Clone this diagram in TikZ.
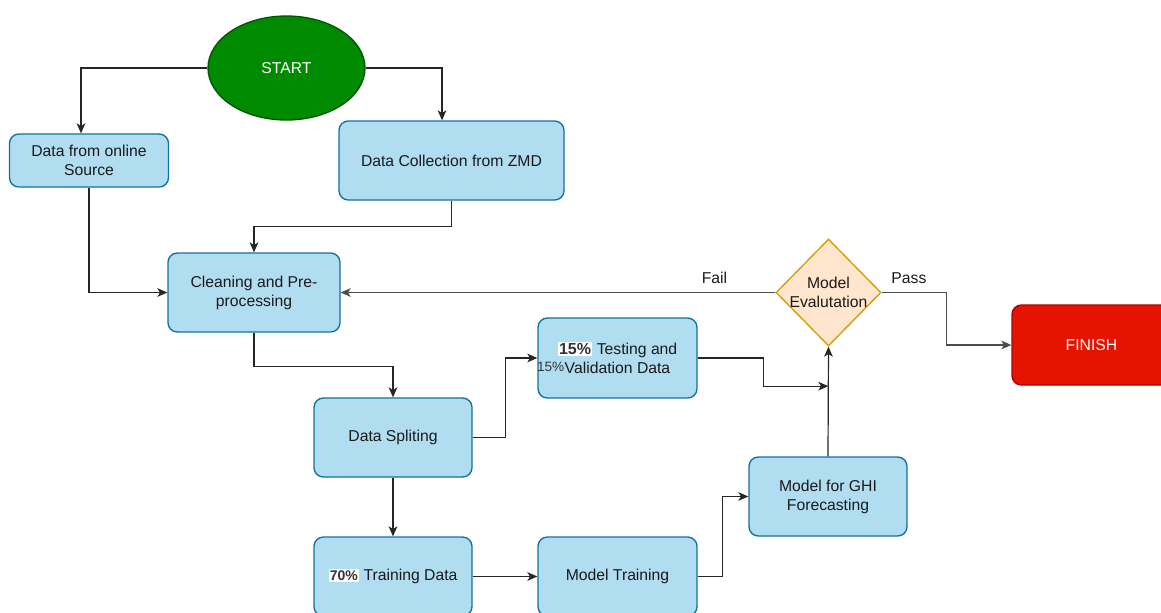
\documentclass[tikz,border=0pt]{standalone}
\usepackage{fontspec}
\setmainfont{Liberation Sans}
\usetikzlibrary{shapes.geometric,arrows.meta,calc}

\definecolor{boxfill}{HTML}{B1DDF0}
\definecolor{boxline}{HTML}{10739E}
\definecolor{startfill}{HTML}{008A00}
\definecolor{startline}{HTML}{005700}
\definecolor{endfill}{HTML}{E51400}
\definecolor{endline}{HTML}{B20000}
\definecolor{decfill}{HTML}{FFE6CC}
\definecolor{decline}{HTML}{D79B00}
\definecolor{txt}{HTML}{1A1A1A}
\definecolor{pctgray}{HTML}{333333}

% highlighted percentage tags inside the box texts
\newcommand\pctbig[1]{{\setlength{\fboxsep}{1pt}\colorbox{white}{\fontsize{12}{12}\selectfont\bfseries\color{pctgray}#1}}}
\newcommand\pctbold[1]{{\setlength{\fboxsep}{1pt}\colorbox{white}{\fontsize{10.5}{10.5}\selectfont\bfseries\color{pctgray}#1}}}

\tikzset{
  basefont/.style={font=\fontsize{11.8}{14.25}\selectfont},
  procbox/.style={rectangle, rounded corners=7pt, draw=boxline, fill=boxfill,
    line width=1pt, align=center, text=txt, inner sep=0pt, basefont},
  terminal/.style={rectangle, rounded corners=7pt, draw=endline, fill=endfill,
    line width=1pt, text=white, inner sep=0pt, basefont},
  startshape/.style={ellipse, draw=startline, fill=startfill, line width=1pt,
    text=white, inner sep=0pt, basefont},
  decision/.style={diamond, draw=decline, fill=decfill, line width=1pt,
    inner sep=0pt},
  conn/.style={draw=black!85, line width=0.9pt, -{Stealth[length=7.5pt,width=6.5pt,inset=2pt]}},
  grayconn/.style={conn, draw=black!70},
  edgelabel/.style={text=txt, basefont, inner sep=0pt},
}

\begin{document}
\begin{tikzpicture}[x=0.75pt,y=-0.75pt]
\useasboundingbox (0,0) rectangle (1161,612);
\clip (0,0) rectangle (1161,612);

% nodes
\node[startshape, minimum width=117.75pt, minimum height=78pt] (start) at (286.5,68) {START};
\node[procbox, minimum width=119.25pt, minimum height=39.75pt] (online) at (89,160.5) {Data from online\\Source};
\node[procbox, minimum width=168.75pt, minimum height=59.25pt] (zmd) at (451.5,160.5) {Data Collection from ZMD};
\node[procbox, minimum width=129pt, minimum height=59.25pt] (clean) at (254,292.5) {Cleaning and Pre-\\processing};
\node[procbox, minimum width=118.5pt, minimum height=59.25pt] (split) at (393,437.5) {Data Spliting};
\node[procbox, minimum width=119.25pt, minimum height=60pt] (test) at (617.5,358) {\pctbig{15\%} Testing and\\Validation Data};
\node[anchor=east, inner sep=0pt, text=pctgray, font=\fontsize{10.2}{10.5}\selectfont] (pctside) at ([shift={(-53,9)}]test.center) {15\%};
\node[procbox, minimum width=118.5pt, minimum height=59.25pt] (train) at (393,576.5) {\pctbold{70\%} Training Data};
\node[procbox, minimum width=119.25pt, minimum height=59.25pt] (mtrain) at (617.5,576.5) {Model Training};
\node[procbox, minimum width=118.5pt, minimum height=59.25pt] (ghi) at (828,496.5) {Model for GHI\\Forecasting};
\node[decision, minimum width=78.75pt, minimum height=80.25pt] (eval) at (828.5,292.5) {};
\node[align=center, text=txt, basefont, inner sep=0pt] (evaltext) at (eval.center) {Model\\Evalutation};
\node[terminal, minimum width=119.25pt, minimum height=60pt] (finish) at (1091.5,345) {FINISH};

% connectors
\draw[conn] (start.west) -| ([xshift=-6pt]online.north);
\draw[conn] (start.east) -| ([xshift=-7.1pt]zmd.north);
\draw[conn] (online.south) |- (clean.west);
\draw[conn] (zmd.south) -- ++(0,26) -| (clean.north);
\draw[conn] (clean.south) -- ++(0,34) -| (split.north);
\draw[conn] (split.east) -- ++(33,0) |- (test.west);
\draw[conn] (split.south) -- (train.north);
\draw[conn] (train.east) -- (mtrain.west);
\draw[conn] (mtrain.east) -- ++(25,0) |- (ghi.west);
\draw[conn] (ghi.north) -- (eval.south);
\coordinate (join) at ($(eval.south)!0.36!(ghi.north)$);
\draw[conn] (test.east) -- ++(66,0) |- (join);
\draw[grayconn] (eval.west) -- node[edgelabel, pos=0.14, above=6pt] {Fail} (clean.east);
\draw[grayconn] (eval.east) -- node[edgelabel, pos=0.42, above=6pt] {Pass} ++(65,0) |- (finish.west);

\end{tikzpicture}
\end{document}
